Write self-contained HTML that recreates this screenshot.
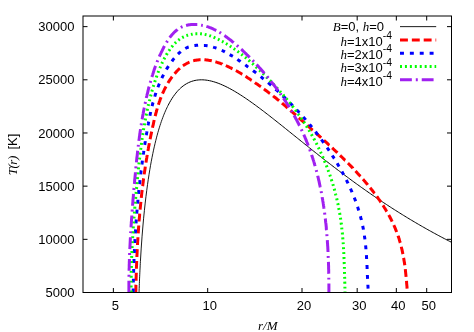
<!DOCTYPE html>
<html><head><meta charset="utf-8"><title>T(r)</title>
<style>html,body{margin:0;padding:0;background:#fff;}body{width:474px;height:332px;overflow:hidden;font-family:"Liberation Sans",sans-serif;}</style>
</head><body>
<svg width="474" height="332" viewBox="0 0 474 332" style="display:block">
<rect width="474" height="332" fill="#fff"/>
<defs><clipPath id="c"><rect x="83" y="16" width="368.5" height="276.5"/></clipPath></defs>
<path d="M113.36,292.5 v-4.5 M113.36,16 v4.5 M207.68,292.5 v-4.5 M207.68,16 v4.5 M302.01,292.5 v-4.5 M302.01,16 v4.5 M357.18,292.5 v-4.5 M357.18,16 v4.5 M396.33,292.5 v-4.5 M396.33,16 v4.5 M426.69,292.5 v-4.5 M426.69,16 v4.5 M83,292.50 h4.5 M451.5,292.50 h-4.5 M83,239.33 h4.5 M451.5,239.33 h-4.5 M83,186.15 h4.5 M451.5,186.15 h-4.5 M83,132.98 h4.5 M451.5,132.98 h-4.5 M83,79.81 h4.5 M451.5,79.81 h-4.5 M83,26.63 h4.5 M451.5,26.63 h-4.5" stroke="#000" stroke-width="1" fill="none"/>
<g clip-path="url(#c)" fill="none" stroke-linejoin="round">
<path d="M138.23,332.48 L138.24,330.86 L138.26,329.05 L138.27,327.55 L138.29,325.91 L138.32,324.12 L138.34,322.17 L138.37,320.05 L138.40,318.54 L138.43,316.93 L138.46,315.23 L138.49,313.43 L138.53,311.52 L138.57,309.50 L138.62,307.37 L138.68,305.11 L138.74,302.73 L138.81,300.21 L138.89,297.54 L138.97,294.72 L139.07,291.75 L139.12,290.20 L139.18,288.61 L139.24,286.97 L139.30,285.29 L139.37,283.57 L139.44,281.80 L139.51,279.98 L139.59,278.11 L139.68,276.19 L139.77,274.22 L139.86,272.21 L139.96,270.13 L140.07,268.01 L140.18,265.83 L140.30,263.60 L140.42,261.31 L141.23,248.07 L142.03,236.82 L142.83,226.99 L143.62,218.22 L144.41,210.30 L145.20,203.09 L145.98,196.46 L146.75,190.33 L147.52,184.64 L148.29,179.33 L149.05,174.37 L149.81,169.72 L150.56,165.34 L151.31,161.22 L152.05,157.33 L152.80,153.65 L153.53,150.16 L154.27,146.85 L155.00,143.71 L155.72,140.73 L156.44,137.89 L157.16,135.19 L157.87,132.61 L158.58,130.16 L159.29,127.81 L159.99,125.58 L160.69,123.44 L161.39,121.40 L162.08,119.45 L162.77,117.58 L163.46,115.79 L164.14,114.08 L164.82,112.45 L165.49,110.88 L166.16,109.38 L166.83,107.94 L167.50,106.56 L168.16,105.24" stroke="#000" stroke-width="0.9"/>
<path d="M168.16,105.24 L169.47,102.77 L170.77,100.49 L172.06,98.40 L173.34,96.49 L174.61,94.73 L175.86,93.11 L177.10,91.63 L178.33,90.28 L179.55,89.04 L180.76,87.91 L181.96,86.87 L183.15,85.94 L184.91,84.70 L186.65,83.63 L188.37,82.73 L190.07,81.97 L191.74,81.35 L193.40,80.85 L195.03,80.45 L196.65,80.16 L198.25,79.96 L199.83,79.85 L201.39,79.81 L202.93,79.84 L204.45,79.94 L205.96,80.09 L207.46,80.30 L209.42,80.66 L211.36,81.10 L213.27,81.61 L215.15,82.18 L217.01,82.81 L218.84,83.48 L220.65,84.21 L222.43,84.97 L224.19,85.77 L225.93,86.60 L227.65,87.46 L229.34,88.34 L231.02,89.25 L232.67,90.18 L234.30,91.12 L235.92,92.07 L237.51,93.04 L239.09,94.02 L240.65,95.01 L242.19,96.01 L243.72,97.01 L245.22,98.02 L246.71,99.03 L248.19,100.05 L249.65,101.07 L251.09,102.08 L252.52,103.10 L253.93,104.12 L255.33,105.14 L256.72,106.16 L258.09,107.17 L259.44,108.18 L260.79,109.19 L262.12,110.20 L263.44,111.20 L264.74,112.19 L266.03,113.19 L267.31,114.18 L268.58,115.16 L269.84,116.14 L271.09,117.11 L272.32,118.08 L273.54,119.04 L274.75,120.00 L275.96,120.95 L277.15,121.89 L278.33,122.83 L279.79,123.99 L281.23,125.15 L282.67,126.29 L284.08,127.42 L285.48,128.55 L286.87,129.66 L288.24,130.77 L289.60,131.86 L290.95,132.94 L292.28,134.02 L293.60,135.08 L294.91,136.13 L296.20,137.17 L297.48,138.21 L298.75,139.23 L300.01,140.24 L301.26,141.25 L302.49,142.24 L303.72,143.22 L304.93,144.20 L306.14,145.16 L307.33,146.12 L308.51,147.06 L309.68,148.00 L311.08,149.11 L312.45,150.21 L313.82,151.30 L315.17,152.37 L316.51,153.43 L317.83,154.48 L319.15,155.52 L320.45,156.54 L321.73,157.55 L323.01,158.55 L324.27,159.54 L325.53,160.52 L326.77,161.49 L328.00,162.44 L329.21,163.39 L330.42,164.32 L331.62,165.24 L333.00,166.31 L334.37,167.36 L335.73,168.39 L337.07,169.42 L338.40,170.43 L339.72,171.42 L341.02,172.41 L342.31,173.38 L343.59,174.34 L344.86,175.29 L346.11,176.22 L347.36,177.15 L348.59,178.06 L349.81,178.96 L351.02,179.85 L352.39,180.86 L353.75,181.85 L355.09,182.83 L356.43,183.79 L357.74,184.74 L359.05,185.68 L360.34,186.61 L361.62,187.52 L362.89,188.42 L364.15,189.31 L365.39,190.19 L366.63,191.06 L368.00,192.02 L369.36,192.97 L370.71,193.90 L372.05,194.82 L373.37,195.73 L374.68,196.63 L375.97,197.51 L377.26,198.38 L378.53,199.24 L379.79,200.09 L381.04,200.93 L382.41,201.84 L383.77,202.75 L385.12,203.64 L386.46,204.51 L387.78,205.38 L389.08,206.23 L390.38,207.07 L391.66,207.90 L392.94,208.72 L394.32,209.60 L395.69,210.47 L397.05,211.33 L398.39,212.18 L399.73,213.01 L401.04,213.83 L402.35,214.64 L403.64,215.44 L404.92,216.23 L406.31,217.08 L407.68,217.91 L409.03,218.73 L410.38,219.54 L411.70,220.33 L413.02,221.12 L414.33,221.89 L415.72,222.72 L417.11,223.53 L418.48,224.33 L419.84,225.11 L421.18,225.89 L422.51,226.65 L423.83,227.41 L425.13,228.15 L426.53,228.93 L427.90,229.71 L429.27,230.47 L430.62,231.22 L431.95,231.95 L433.28,232.68 L434.68,233.45 L436.07,234.20 L437.45,234.95 L438.81,235.68 L440.16,236.40 L441.49,237.11 L442.90,237.85 L444.30,238.58 L445.68,239.30 L447.05,240.01 L448.40,240.71 L449.74,241.40 L451.15,242.12 L452.55,242.82 L452.63,242.86" stroke="#000" stroke-width="1.0"/>
<path d="M135.8,292.5L135.8,291.5L135.8,290.5L135.9,289.5L135.9,288.5L135.9,287.5L135.9,286.5L135.9,285.5L136.0,284.7M136.1,280.7L136.1,279.7L136.1,278.7L136.1,277.7L136.2,276.7L136.2,275.7L136.2,274.7L136.3,273.7L136.3,272.8M136.4,268.8L136.4,267.8L136.5,266.8L136.5,265.8L136.6,264.8L136.6,263.8L136.6,262.8L136.7,261.8L136.7,260.9M136.9,257.0L136.9,256.0L137.0,255.0L137.0,254.0L137.1,253.0L137.1,252.0L137.2,251.0L137.2,250.0L137.3,249.1M137.5,245.1L137.5,244.1L137.6,243.1L137.6,242.1L137.7,241.1L137.8,240.1L137.8,239.1L137.9,238.1L137.9,237.2M138.2,233.3L138.3,232.3L138.3,231.3L138.4,230.3L138.5,229.3L138.5,228.3L138.6,227.3L138.7,226.3L138.7,225.4M139.1,221.5L139.1,220.5L139.2,219.5L139.3,218.5L139.4,217.5L139.5,216.5L139.6,215.5L139.6,214.5L139.7,213.6M140.1,209.6L140.2,208.6L140.3,207.6L140.4,206.6L140.5,205.6L140.6,204.7L140.7,203.7L140.8,202.7L140.9,201.8M141.3,197.9L141.4,196.9L141.5,195.9L141.6,194.9L141.7,193.9L141.8,192.9L141.9,191.9L142.1,190.9L142.2,190.0M142.6,186.1L142.8,185.1L142.9,184.1L143.0,183.1L143.2,182.1L143.3,181.1L143.4,180.1L143.5,179.1L143.7,178.3M144.2,174.3L144.3,173.3L144.5,172.3L144.6,171.4L144.8,170.4L144.9,169.4L145.1,168.4L145.2,167.4L145.3,166.6M146.0,162.6L146.1,161.6L146.3,160.6L146.4,159.6L146.6,158.7L146.8,157.7L146.9,156.7L147.1,155.7L147.2,154.9M147.9,151.0L148.1,150.0L148.3,149.0L148.4,148.0L148.6,147.0L148.8,146.0L149.0,145.1L149.2,144.1L149.3,143.2M150.1,139.3L150.3,138.3L150.5,137.3L150.7,136.3L150.9,135.3L151.1,134.4L151.3,133.4L151.5,132.4L151.7,131.6M152.5,127.7L152.7,126.7L152.9,125.7L153.2,124.7L153.4,123.8L153.6,122.8L153.8,121.8L154.0,120.8L154.2,120.0M155.2,116.1L155.4,115.2L155.7,114.2L155.9,113.2L156.2,112.3L156.5,111.3L156.7,110.3L157.0,109.4L157.2,108.5M158.4,104.8L158.7,103.8L159.0,102.9L159.3,101.9L159.7,101.0L160.0,100.0L160.3,99.1L160.7,98.2L161.0,97.3M162.5,93.6L162.9,92.7L163.4,91.8L163.8,90.9L164.2,90.0L164.6,89.1L165.1,88.2L165.6,87.3L166.0,86.6M167.9,83.1L168.4,82.2L169.0,81.4L169.5,80.5L170.1,79.7L170.6,78.9L171.2,78.1L171.8,77.2L172.2,76.7M174.6,73.7L175.3,72.9L175.9,72.2L176.6,71.4L177.3,70.7L178.0,70.0L178.7,69.3L179.5,68.6L179.9,68.2M182.9,65.8L183.7,65.3L184.6,64.7L185.4,64.2L186.3,63.7L187.2,63.2L188.1,62.8L189.0,62.3L189.5,62.1M193.2,60.8L194.1,60.6L195.1,60.3L196.1,60.2L197.1,60.0L198.1,59.9L199.1,59.8L200.0,59.7L200.6,59.7M204.4,59.7L205.4,59.8L206.4,59.9L207.4,60.0L208.4,60.2L209.4,60.4L210.4,60.5L211.4,60.7L211.8,60.8M215.4,61.8L216.4,62.1L217.3,62.4L218.3,62.7L219.2,63.0L220.2,63.3L221.1,63.7L222.1,64.0L222.3,64.2M225.8,65.6L226.7,66.0L227.6,66.4L228.5,66.8L229.4,67.3L230.3,67.7L231.2,68.1L232.1,68.6L232.5,68.8M235.8,70.6L236.7,71.0L237.6,71.5L238.4,72.0L239.3,72.5L240.2,73.0L241.0,73.5L241.9,74.1L242.3,74.3M245.5,76.3L246.3,76.8L247.2,77.4L248.0,77.9L248.9,78.5L249.7,79.0L250.5,79.6L251.3,80.2L251.7,80.4M254.9,82.6L255.7,83.2L256.5,83.7L257.4,84.3L258.2,84.9L259.0,85.5L259.8,86.0L260.6,86.6L260.9,86.8M263.9,89.0L264.7,89.6L265.5,90.2L266.3,90.8L267.1,91.4L267.9,92.0L268.7,92.6L269.5,93.2L270.0,93.5M273.1,95.9L273.9,96.6L274.7,97.2L275.5,97.8L276.3,98.4L277.0,99.1L277.8,99.7L278.6,100.3L279.1,100.7M282.0,103.1L282.7,103.8L283.5,104.4L284.3,105.1L285.0,105.7L285.8,106.4L286.5,107.0L287.3,107.7L287.6,107.9M290.5,110.4L291.2,111.1L292.0,111.8L292.7,112.4L293.5,113.1L294.2,113.7L295.0,114.4L295.7,115.1L296.0,115.3M298.8,117.9L299.6,118.5L300.3,119.2L301.1,119.9L301.8,120.5L302.6,121.2L303.3,121.9L304.1,122.5L304.4,122.8M307.2,125.3L308.0,126.0L308.7,126.6L309.5,127.3L310.2,128.0L310.9,128.6L311.7,129.3L312.4,130.0L312.7,130.2M315.6,132.8L316.3,133.4L317.1,134.1L317.8,134.8L318.6,135.4L319.3,136.1L320.0,136.8L320.8,137.4L321.1,137.7M323.9,140.2L324.6,140.9L325.4,141.6L326.1,142.3L326.9,142.9L327.6,143.6L328.3,144.3L329.1,145.0L329.4,145.2M332.1,147.8L332.9,148.5L333.6,149.2L334.3,149.9L335.1,150.6L335.8,151.3L336.5,151.9L337.2,152.6L337.4,152.8M340.1,155.4L340.8,156.1L341.6,156.8L342.3,157.5L343.0,158.2L343.7,158.9L344.4,159.6L345.1,160.3L345.3,160.4M347.9,163.1L348.6,163.8L349.3,164.5L350.0,165.2L350.7,165.9L351.4,166.6L352.1,167.4L352.8,168.1L352.9,168.3M355.5,171.0L356.2,171.7L356.9,172.5L357.5,173.2L358.2,173.9L358.9,174.7L359.6,175.4L360.2,176.1L360.5,176.4M362.9,179.2L363.6,179.9L364.2,180.7L364.9,181.4L365.5,182.2L366.2,183.0L366.8,183.7L367.5,184.5L367.7,184.8M370.1,187.7L370.7,188.4L371.3,189.2L372.0,190.0L372.6,190.8L373.2,191.6L373.8,192.4L374.4,193.2L374.6,193.4M376.8,196.3L377.4,197.1L377.9,197.9L378.5,198.8L379.1,199.6L379.7,200.4L380.2,201.2L380.8,202.1L380.9,202.2M382.9,205.3L383.5,206.1L384.0,207.0L384.5,207.8L385.1,208.7L385.6,209.5L386.1,210.4L386.6,211.3L386.8,211.6M388.7,214.9L389.2,215.8L389.7,216.7L390.1,217.6L390.6,218.4L391.0,219.3L391.5,220.2L391.9,221.1L392.1,221.6M393.8,225.1L394.2,226.0L394.6,226.9L395.0,227.8L395.4,228.7L395.7,229.7L396.1,230.6L396.5,231.5L396.7,232.0M398.0,235.7L398.3,236.6L398.7,237.6L399.0,238.5L399.3,239.5L399.5,240.5L399.8,241.4L400.1,242.4L400.3,242.9M401.3,246.7L401.5,247.7L401.7,248.7L402.0,249.6L402.2,250.6L402.4,251.6L402.6,252.6L402.8,253.6L402.9,254.1M403.6,257.9L403.8,258.9L403.9,259.9L404.1,260.9L404.3,261.9L404.4,262.9L404.6,263.8L404.7,264.8L404.8,265.3M405.3,269.2L405.4,270.1L405.5,271.1L405.6,272.1L405.7,273.1L405.8,274.1L405.9,275.1L406.0,276.1L406.1,276.9M406.5,280.8L406.6,281.8L406.6,282.8L406.7,283.8L406.8,284.8L406.9,285.8L407.0,286.8L407.0,287.8L407.1,288.6" stroke="#ff0000" stroke-width="3"/>
<path d="M133.1,292.5L133.1,291.5L133.2,290.5L133.2,289.5L133.2,288.6M133.3,282.6L133.3,281.6L133.4,280.6L133.4,279.6L133.4,278.7M133.6,272.8L133.6,271.8L133.6,270.8L133.7,269.8L133.7,268.9M133.9,262.9L133.9,261.9L134.0,260.9L134.0,259.9L134.0,259.0M134.3,253.0L134.3,252.0L134.4,251.0L134.4,250.0L134.5,249.1M134.8,243.1L134.8,242.1L134.9,241.1L134.9,240.1L135.0,239.2M135.3,233.3L135.4,232.3L135.5,231.3L135.5,230.3L135.6,229.4M136.0,223.4L136.1,222.4L136.1,221.4L136.2,220.4L136.3,219.5M136.7,213.6L136.8,212.6L136.9,211.6L137.0,210.6L137.1,209.7M137.6,203.7L137.7,202.7L137.8,201.7L137.9,200.7L137.9,199.8M138.5,193.9L138.6,192.9L138.7,191.9L138.8,190.9L138.9,190.0M139.5,184.1L139.7,183.1L139.8,182.1L139.9,181.1L140.0,180.2M140.7,174.3L140.8,173.3L140.9,172.3L141.0,171.3L141.2,170.4M141.9,164.5L142.1,163.5L142.2,162.5L142.3,161.5L142.4,160.6M143.3,154.7L143.4,153.7L143.6,152.7L143.7,151.7L143.8,150.9M144.7,144.9L144.9,143.9L145.0,143.0L145.2,142.0L145.3,141.1M146.3,135.2L146.5,134.2L146.6,133.2L146.8,132.2L146.9,131.4M148.0,125.4L148.2,124.5L148.4,123.5L148.5,122.5L148.7,121.6M149.9,115.8L150.1,114.8L150.3,113.8L150.5,112.8L150.7,112.0M152.1,106.1L152.3,105.2L152.6,104.2L152.8,103.2L153.1,102.4M154.7,96.6L155.0,95.7L155.3,94.7L155.6,93.8L155.9,92.9M157.9,87.3L158.3,86.3L158.6,85.4L159.0,84.5L159.4,83.6M161.8,78.2L162.2,77.3L162.6,76.4L163.1,75.5L163.5,74.7M166.4,69.5L166.9,68.6L167.4,67.8L168.0,66.9L168.5,66.2M171.9,61.3L172.5,60.5L173.1,59.7L173.7,58.9L174.2,58.3M178.0,54.1L178.7,53.4L179.4,52.7L180.2,52.1L180.7,51.6M185.3,48.5L186.2,48.0L187.1,47.6L188.0,47.2L188.7,47.0M194.4,45.6L195.3,45.5L196.3,45.3L197.3,45.3L198.1,45.2M203.9,45.4L204.9,45.4L205.9,45.6L206.9,45.7L207.6,45.8M213.1,47.1L214.0,47.4L215.0,47.6L215.9,48.0L216.5,48.2M221.7,50.3L222.6,50.7L223.5,51.2L224.4,51.6L224.9,51.9M229.7,54.6L230.6,55.1L231.5,55.6L232.3,56.1L232.8,56.4M237.4,59.4L238.2,60.0L239.0,60.6L239.9,61.1L240.5,61.6M245.3,64.9L246.1,65.5L246.9,66.1L247.7,66.7L248.3,67.1M253.0,70.6L253.8,71.2L254.6,71.8L255.4,72.4L256.1,73.0M260.7,76.6L261.5,77.2L262.2,77.8L263.0,78.5L263.6,79.0M268.1,82.7L268.9,83.4L269.7,84.0L270.4,84.7L271.1,85.3M275.6,89.2L276.3,89.9L277.1,90.5L277.8,91.2L278.5,91.8M282.8,95.9L283.5,96.6L284.3,97.2L285.0,97.9L285.7,98.6M289.9,102.8L290.6,103.5L291.3,104.2L292.0,104.9L292.6,105.6M296.7,109.9L297.4,110.6L298.1,111.3L298.8,112.1L299.4,112.7M303.2,117.0L303.9,117.8L304.5,118.5L305.2,119.3L305.7,119.9M309.5,124.3L310.1,125.1L310.7,125.8L311.4,126.6L311.8,127.2M315.5,131.7L316.1,132.5L316.7,133.3L317.3,134.1L317.8,134.8M321.4,139.5L322.0,140.4L322.6,141.2L323.1,142.0L323.7,142.7M327.1,147.6L327.6,148.4L328.2,149.2L328.8,150.1L329.2,150.7M332.3,155.4L332.8,156.3L333.4,157.1L333.9,158.0L334.3,158.5M337.2,163.3L337.7,164.2L338.2,165.1L338.7,165.9L339.1,166.5M341.9,171.5L342.4,172.3L342.8,173.2L343.3,174.1L343.7,174.8M346.3,179.9L346.8,180.8L347.2,181.7L347.7,182.6L348.0,183.4M350.5,188.7L350.9,189.6L351.3,190.5L351.7,191.4L352.0,192.2M354.2,197.6L354.6,198.5L355.0,199.5L355.3,200.4L355.6,201.2M357.6,206.8L357.9,207.8L358.2,208.7L358.5,209.7L358.8,210.5M360.4,216.3L360.7,217.3L360.9,218.2L361.2,219.2L361.4,220.0M362.7,225.9L362.9,226.9L363.1,227.8L363.3,228.8L363.4,229.7M364.4,235.6L364.5,236.6L364.7,237.6L364.8,238.6L364.9,239.4M365.6,245.4L365.7,246.4L365.8,247.3L365.9,248.3L365.9,249.2M366.4,255.2L366.5,256.2L366.5,257.2L366.6,258.2L366.6,259.1M367.0,265.1L367.0,266.1L367.1,267.1L367.1,268.1L367.1,269.0M367.4,274.9L367.4,275.9L367.5,276.9L367.5,277.9L367.6,278.8M367.9,284.7L367.9,285.7L368.0,286.7L368.0,287.7L368.1,288.6" stroke="#0000ff" stroke-width="3"/>
<path d="M131.2,292.5L131.2,291.5L131.2,290.6M131.1,287.6L131.1,286.6L131.1,285.6M131.1,282.6L131.1,281.6L131.1,280.7M131.2,277.7L131.2,276.7L131.2,275.8M131.2,272.8L131.2,271.8L131.3,270.8M131.3,267.8L131.4,266.8L131.4,265.9M131.5,262.9L131.5,261.9L131.5,261.0M131.6,257.9L131.7,256.9L131.7,256.0M131.8,253.0L131.9,252.0L131.9,251.1M132.1,248.1L132.1,247.1L132.2,246.1M132.3,243.1L132.4,242.1L132.4,241.2M132.6,238.2L132.7,237.2L132.7,236.3M132.9,233.3L133.0,232.3L133.0,231.3M133.2,228.4L133.3,227.4L133.4,226.4M133.6,223.4L133.7,222.4L133.7,221.5M134.0,218.5L134.0,217.5L134.1,216.6M134.4,213.6L134.4,212.6L134.5,211.6M134.8,208.7L134.8,207.7L134.9,206.7M135.2,203.7L135.3,202.7L135.3,201.8M135.6,198.8L135.7,197.8L135.8,196.9M136.0,193.9L136.1,192.9L136.2,192.0M136.5,189.0L136.6,188.0L136.7,187.0M136.9,184.1L137.0,183.1L137.1,182.2M137.4,179.1L137.5,178.1L137.6,177.2M137.9,174.3L138.0,173.3L138.1,172.3M138.4,169.3L138.5,168.3L138.6,167.4M138.9,164.4L139.0,163.4L139.1,162.5M139.5,159.5L139.6,158.5L139.7,157.6M140.0,154.6L140.1,153.6L140.3,152.7M140.6,149.7L140.8,148.7L140.9,147.8M141.3,144.8L141.4,143.8L141.5,142.9M142.0,139.9L142.1,138.9L142.2,138.0M142.7,135.0L142.8,134.1L143.0,133.1M143.5,130.2L143.6,129.2L143.8,128.2M144.3,125.3L144.5,124.3L144.6,123.4M145.2,120.4L145.4,119.4L145.5,118.5M146.1,115.6L146.3,114.6L146.5,113.7M147.1,110.8L147.3,109.8L147.5,108.8M148.2,105.9L148.4,104.9L148.6,104.1M149.3,101.1L149.6,100.1L149.8,99.3M150.6,96.4L150.8,95.4L151.1,94.5M151.9,91.6L152.1,90.6L152.4,89.7M153.2,86.8L153.5,85.9L153.8,85.0M154.7,82.1L155.0,81.2L155.3,80.3M156.3,77.5L156.6,76.5L156.9,75.6M158.0,72.8L158.3,71.9L158.7,71.0M159.8,68.2L160.2,67.3L160.5,66.5M161.8,63.7L162.2,62.8L162.6,62.0M163.9,59.3L164.4,58.4L164.9,57.6M166.3,55.0L166.8,54.1L167.3,53.3M168.8,50.9L169.4,50.1L169.9,49.3M171.6,47.0L172.3,46.2L172.8,45.5M174.8,43.4L175.5,42.7L176.1,42.1M178.3,40.2L179.1,39.6L179.8,39.1M182.2,37.6L183.1,37.1L183.8,36.8M186.4,35.6L187.4,35.3L188.1,35.1M190.9,34.4L191.9,34.2L192.6,34.0M195.4,33.7L196.4,33.7L197.3,33.7M200.1,33.7L201.1,33.8L201.9,33.9M204.7,34.4L205.7,34.6L206.5,34.8M209.3,35.6L210.2,35.9L211.0,36.2M213.6,37.2L214.5,37.6L215.3,38.0M217.9,39.2L218.8,39.6L219.5,40.0M221.9,41.3L222.8,41.7L223.5,42.1M225.9,43.5L226.8,44.0L227.5,44.4M229.9,45.9L230.7,46.5L231.4,46.9M233.7,48.5L234.5,49.1L235.2,49.6M237.5,51.3L238.3,51.9L239.0,52.4M241.3,54.2L242.1,54.8L242.7,55.3M245.0,57.2L245.8,57.8L246.4,58.4M248.6,60.2L249.4,60.9L250.0,61.5M252.2,63.5L253.0,64.1L253.6,64.7M255.8,66.7L256.5,67.4L257.2,68.0M259.4,70.1L260.1,70.8L260.7,71.4M262.9,73.5L263.6,74.2L264.2,74.8M266.3,76.9L267.0,77.6L267.7,78.3M269.8,80.4L270.5,81.1L271.1,81.8M273.2,84.0L273.9,84.7L274.5,85.3M276.5,87.5L277.2,88.3L277.8,88.9M279.8,91.1L280.4,91.9L281.0,92.6M283.0,94.8L283.7,95.6L284.2,96.2M286.1,98.5L286.8,99.3L287.4,100.0M289.2,102.3L289.9,103.0L290.4,103.7M292.2,106.0L292.9,106.8L293.4,107.6M295.2,109.9L295.8,110.7L296.3,111.4M298.1,113.8L298.7,114.7L299.2,115.3M300.9,117.8L301.5,118.6L302.0,119.4M303.6,121.8L304.2,122.6L304.7,123.4M306.3,125.9L306.8,126.7L307.3,127.5M308.8,130.0L309.4,130.9L309.8,131.7M311.4,134.3L311.9,135.2L312.3,136.0M313.8,138.6L314.3,139.5L314.7,140.3M316.1,142.9L316.6,143.8L317.0,144.7M318.3,147.4L318.8,148.3L319.2,149.1M320.5,151.8L320.9,152.7L321.3,153.5M322.5,156.3L322.9,157.2L323.3,158.1M324.5,160.8L324.8,161.8L325.2,162.6M326.3,165.4L326.7,166.3L327.0,167.2M328.1,170.0L328.4,171.0L328.7,171.8M329.8,174.7L330.1,175.6L330.4,176.5M331.3,179.3L331.6,180.3L331.9,181.2M332.8,184.1L333.1,185.0L333.4,185.9M334.2,188.8L334.5,189.8L334.7,190.7M335.5,193.6L335.7,194.6L335.9,195.4M336.7,198.4L336.9,199.3L337.1,200.3M337.7,203.2L338.0,204.2L338.1,205.1M338.7,208.0L338.9,209.0L339.1,209.9M339.6,212.9L339.8,213.9L339.9,214.8M340.4,217.7L340.6,218.7L340.7,219.7M341.1,222.6L341.2,223.6L341.4,224.6M341.7,227.6L341.8,228.5L341.9,229.4M342.3,232.5L342.4,233.5L342.4,234.4M342.7,237.3L342.8,238.3L342.9,239.3M343.1,242.3L343.2,243.3L343.3,244.2M343.5,247.2L343.5,248.2L343.6,249.1M343.7,252.2L343.8,253.2L343.8,254.1M344.0,257.1L344.0,258.1L344.1,259.0M344.2,262.0L344.2,263.0L344.3,264.0M344.4,267.0L344.4,268.0L344.4,268.8M344.5,271.9L344.5,272.9L344.6,273.8M344.6,276.8L344.7,277.8L344.7,278.7M344.7,281.7L344.8,282.7L344.8,283.7M344.9,286.7L344.9,287.7L344.9,288.6M345.0,291.6L345.0,292.5" stroke="#00ff00" stroke-width="3"/>
<path d="M128.9,292.5L128.9,291.5L128.9,290.5L128.9,289.5L128.9,288.5L128.9,287.5L128.9,286.5L128.9,285.5L128.9,284.5L128.9,283.5L128.9,282.5L128.9,281.5L128.9,280.7M129.0,276.7L129.0,275.7L129.0,274.8M129.1,270.8L129.1,269.8L129.1,268.8L129.2,267.8L129.2,266.8L129.2,265.8L129.2,264.8L129.3,263.8L129.3,262.8L129.3,261.8L129.4,260.8L129.4,259.8L129.4,259.0M129.6,255.0L129.6,254.0L129.6,253.0M129.8,249.1L129.9,248.1L129.9,247.1L130.0,246.1L130.0,245.1L130.1,244.1L130.1,243.1L130.2,242.1L130.2,241.1L130.3,240.1L130.3,239.1L130.4,238.1L130.4,237.3M130.6,233.2L130.7,232.2L130.8,231.3M131.0,227.3L131.1,226.3L131.1,225.4L131.2,224.4L131.3,223.4L131.3,222.4L131.4,221.4L131.5,220.4L131.5,219.4L131.6,218.4L131.7,217.4L131.8,216.4L131.8,215.6M132.1,211.6L132.2,210.6L132.2,209.6M132.6,205.7L132.6,204.7L132.7,203.7L132.8,202.7L132.9,201.7L132.9,200.7L133.0,199.7L133.1,198.7L133.2,197.7L133.3,196.7L133.4,195.7L133.4,194.7L133.5,193.9M133.9,189.9L133.9,188.9L134.0,188.0M134.4,184.0L134.5,183.0L134.6,182.0L134.6,181.0L134.7,180.0L134.8,179.0L134.9,178.1L135.0,177.1L135.1,176.1L135.2,175.1L135.3,174.1L135.4,173.1L135.4,172.3M135.8,168.3L135.9,167.3L136.0,166.4M136.4,162.4L136.5,161.4L136.6,160.4L136.7,159.4L136.8,158.4L136.9,157.4L137.1,156.4L137.2,155.4L137.3,154.4L137.4,153.4L137.5,152.4L137.6,151.4L137.7,150.7M138.2,146.7L138.3,145.7L138.4,144.8M138.9,140.8L139.0,139.8L139.2,138.8L139.3,137.8L139.4,136.9L139.6,135.9L139.7,134.9L139.8,133.9L140.0,132.9L140.1,131.9L140.3,130.9L140.4,129.9L140.5,129.1M141.1,125.2L141.3,124.2L141.4,123.3M142.1,119.4L142.3,118.4L142.4,117.4L142.6,116.4L142.8,115.4L143.0,114.4L143.2,113.5L143.3,112.5L143.5,111.5L143.7,110.5L143.9,109.5L144.1,108.5L144.3,107.7M145.1,103.8L145.3,102.9L145.5,101.9M146.3,98.0L146.5,97.0L146.8,96.1L147.0,95.1L147.2,94.1L147.5,93.2L147.7,92.2L148.0,91.2L148.2,90.2L148.4,89.3L148.7,88.3L148.9,87.3L149.2,86.6M150.2,82.7L150.5,81.7L150.7,80.8M151.9,77.0L152.2,76.0L152.5,75.1L152.8,74.1L153.1,73.2L153.4,72.2L153.7,71.3L154.0,70.3L154.3,69.4L154.7,68.4L155.0,67.5L155.3,66.6L155.6,65.9M157.1,62.1L157.4,61.1L157.8,60.3M159.3,56.6L159.7,55.7L160.1,54.8L160.6,53.9L161.0,53.0L161.4,52.1L161.9,51.2L162.3,50.3L162.7,49.4L163.2,48.5L163.7,47.6L164.1,46.7L164.5,46.0M166.5,42.6L167.0,41.7L167.5,40.9M169.7,37.6L170.3,36.8L171.0,36.0L171.6,35.3L172.2,34.5L172.9,33.8L173.6,33.0L174.3,32.3L175.0,31.6L175.7,31.0L176.5,30.3L177.3,29.7L177.5,29.5M180.8,27.5L181.7,27.0L182.5,26.7M186.0,25.4L187.0,25.2L188.0,25.0L189.0,24.8L190.0,24.7L191.0,24.6L192.0,24.5L193.0,24.5L194.0,24.4L195.0,24.5L196.0,24.5L197.0,24.6L197.3,24.6M201.1,25.1L202.1,25.3L202.8,25.4M206.4,26.3L207.3,26.6L208.3,26.9L209.2,27.3L210.1,27.6L211.1,28.0L212.0,28.4L212.9,28.8L213.8,29.3L214.7,29.7L215.6,30.2L216.3,30.5M219.4,32.3L220.3,32.8L221.0,33.3M224.4,35.6L225.2,36.1L226.0,36.7L226.8,37.3L227.6,37.9L228.4,38.5L229.2,39.1L230.0,39.7L230.8,40.3L231.6,40.9L232.3,41.6L233.1,42.2L233.7,42.7M236.8,45.3L237.6,46.0L238.3,46.6M241.2,49.2L242.0,49.9L242.7,50.6L243.4,51.3L244.2,52.0L244.9,52.7L245.6,53.4L246.3,54.1L247.0,54.8L247.8,55.5L248.5,56.2L249.2,56.9L249.7,57.4M252.6,60.3L253.3,61.1L253.9,61.7M256.6,64.6L257.3,65.4L258.0,66.1L258.6,66.8L259.3,67.6L260.0,68.3L260.7,69.1L261.3,69.8L262.0,70.6L262.6,71.3L263.3,72.1L263.9,72.8L264.5,73.4M267.1,76.5L267.7,77.3L268.3,78.0M270.8,81.1L271.4,81.9L272.1,82.7L272.7,83.4L273.3,84.2L273.9,85.0L274.5,85.8L275.1,86.6L275.7,87.4L276.3,88.2L276.9,89.0L277.5,89.8L278.0,90.5M280.2,93.5L280.8,94.4L281.2,95.0M283.4,98.1L283.9,98.9L284.5,99.8L285.0,100.6L285.6,101.4L286.1,102.3L286.7,103.1L287.2,104.0L287.7,104.8L288.3,105.7L288.8,106.5L289.3,107.3M291.3,110.6L291.8,111.4L292.2,112.1M294.1,115.4L294.5,116.2L295.0,117.1L295.5,118.0L296.0,118.9L296.5,119.7L296.9,120.6L297.4,121.5L297.9,122.4L298.3,123.3L298.8,124.2L299.2,125.1L299.6,125.7M301.3,129.3L301.7,130.2L302.1,131.1M303.8,134.7L304.2,135.6L304.6,136.5L305.0,137.4L305.4,138.4L305.8,139.3L306.1,140.2L306.5,141.1L306.9,142.1L307.3,143.0L307.6,143.9L308.0,144.9L308.3,145.6M309.7,149.3L310.0,150.3L310.3,151.2M311.6,154.9L311.9,155.9L312.3,156.8L312.6,157.8L312.9,158.7L313.2,159.7L313.5,160.6L313.8,161.6L314.1,162.5L314.3,163.5L314.6,164.5L314.9,165.4L315.1,166.2M316.2,170.1L316.5,171.0L316.7,171.9M317.7,175.8L317.9,176.8L318.2,177.7L318.4,178.7L318.6,179.7L318.9,180.7L319.1,181.6L319.3,182.6L319.5,183.6L319.7,184.6L319.9,185.5L320.1,186.5L320.3,187.3M321.1,191.2L321.3,192.2L321.4,193.1M322.2,197.1L322.3,198.1L322.5,199.0L322.7,200.0L322.8,201.0L323.0,202.0L323.2,203.0L323.3,204.0L323.5,205.0L323.6,206.0L323.8,206.9L323.9,207.9L324.0,208.7M324.6,212.6L324.7,213.6L324.8,214.6M325.3,218.5L325.4,219.5L325.5,220.5L325.6,221.5L325.7,222.5L325.9,223.5L326.0,224.5L326.1,225.5L326.2,226.5L326.3,227.5L326.3,228.5L326.4,229.5L326.5,230.3M326.9,234.3L326.9,235.3L327.0,236.2M327.3,240.2L327.4,241.2L327.4,242.2L327.5,243.2L327.6,244.2L327.6,245.2L327.7,246.2L327.8,247.2L327.8,248.2L327.9,249.2L327.9,250.2L328.0,251.2L328.0,251.9M328.2,256.0L328.2,257.0L328.3,257.9M328.4,261.9L328.5,262.9L328.5,263.9L328.5,264.9L328.6,265.9L328.6,266.9L328.6,267.9L328.6,268.9L328.7,269.9L328.7,270.9L328.7,271.9L328.7,272.9L328.8,273.7M328.8,277.7L328.8,278.7L328.8,279.6M328.9,283.6L328.9,284.6L328.9,285.6L328.9,286.6L328.9,287.6L328.9,288.6L328.9,289.6L328.9,290.6L328.9,291.6L328.9,292.5" stroke="#a020f0" stroke-width="3"/>
</g>
<rect x="83" y="16" width="368.5" height="276.5" fill="none" stroke="#000" stroke-width="1"/>
<path d="M400,26.63 H436.2" stroke="#000" stroke-width="0.9"/>
<path d="M400,39.88 H436.2" stroke="#ff0000" stroke-width="3" stroke-dasharray="7.9 3.95"/>
<path d="M400,53.13 H436.2" stroke="#0000ff" stroke-width="3" stroke-dasharray="3.95 5.925000000000001"/>
<path d="M400,66.38 H436.2" stroke="#00ff00" stroke-width="3" stroke-dasharray="1.975 2.9625000000000004"/>
<path d="M400,79.63 H436.2" stroke="#a020f0" stroke-width="3" stroke-dasharray="11.850000000000001 3.95 1.975 3.95"/>
<g fill="#000" opacity="0.999"><text x="74.5" y="297.10" text-anchor="end" font-family="Liberation Sans, sans-serif" font-size="13.0">5000</text>
<text x="74.5" y="243.93" text-anchor="end" font-family="Liberation Sans, sans-serif" font-size="13.0">10000</text>
<text x="74.5" y="190.75" text-anchor="end" font-family="Liberation Sans, sans-serif" font-size="13.0">15000</text>
<text x="74.5" y="137.58" text-anchor="end" font-family="Liberation Sans, sans-serif" font-size="13.0">20000</text>
<text x="74.5" y="84.41" text-anchor="end" font-family="Liberation Sans, sans-serif" font-size="13.0">25000</text>
<text x="74.5" y="31.23" text-anchor="end" font-family="Liberation Sans, sans-serif" font-size="13.0">30000</text>
<text x="115.36" y="310.2" text-anchor="middle" font-family="Liberation Sans, sans-serif" font-size="13.0">5</text>
<text x="209.68" y="310.2" text-anchor="middle" font-family="Liberation Sans, sans-serif" font-size="13.0">10</text>
<text x="304.01" y="310.2" text-anchor="middle" font-family="Liberation Sans, sans-serif" font-size="13.0">20</text>
<text x="359.18" y="310.2" text-anchor="middle" font-family="Liberation Sans, sans-serif" font-size="13.0">30</text>
<text x="398.33" y="310.2" text-anchor="middle" font-family="Liberation Sans, sans-serif" font-size="13.0">40</text>
<text x="428.69" y="310.2" text-anchor="middle" font-family="Liberation Sans, sans-serif" font-size="13.0">50</text>
<text x="267.8" y="329.7" text-anchor="middle" font-size="13" font-family="Liberation Serif, serif" font-style="italic">r/M</text>
<text transform="translate(17.0,175.2) rotate(-90)" text-anchor="start" font-size="13" letter-spacing="-0.5" font-family="Liberation Serif, serif" font-style="italic">T(r)</text>
<text transform="translate(17.0,133.6) rotate(-90)" text-anchor="end" font-size="13.0" font-family="Liberation Sans, sans-serif">[K]</text>
<text x="384" y="31.229999999999997" text-anchor="end" font-family="Liberation Sans, sans-serif" font-size="13.0"><tspan font-family="Liberation Serif, serif" font-style="italic" font-size="13">B</tspan>=0, <tspan font-family="Liberation Serif, serif" font-style="italic" font-size="13">h</tspan>=0</text>
<text x="392.0" y="45.88" text-anchor="end" font-family="Liberation Sans, sans-serif" font-size="13.0"><tspan font-family="Liberation Serif, serif" font-style="italic" font-size="13">h</tspan>=1x10<tspan font-size="10.4" dy="-6.7">-4</tspan></text>
<text x="392.0" y="59.13" text-anchor="end" font-family="Liberation Sans, sans-serif" font-size="13.0"><tspan font-family="Liberation Serif, serif" font-style="italic" font-size="13">h</tspan>=2x10<tspan font-size="10.4" dy="-6.7">-4</tspan></text>
<text x="392.0" y="72.38" text-anchor="end" font-family="Liberation Sans, sans-serif" font-size="13.0"><tspan font-family="Liberation Serif, serif" font-style="italic" font-size="13">h</tspan>=3x10<tspan font-size="10.4" dy="-6.7">-4</tspan></text>
<text x="392.0" y="85.63" text-anchor="end" font-family="Liberation Sans, sans-serif" font-size="13.0"><tspan font-family="Liberation Serif, serif" font-style="italic" font-size="13">h</tspan>=4x10<tspan font-size="10.4" dy="-6.7">-4</tspan></text></g>
</svg>
</body></html>
